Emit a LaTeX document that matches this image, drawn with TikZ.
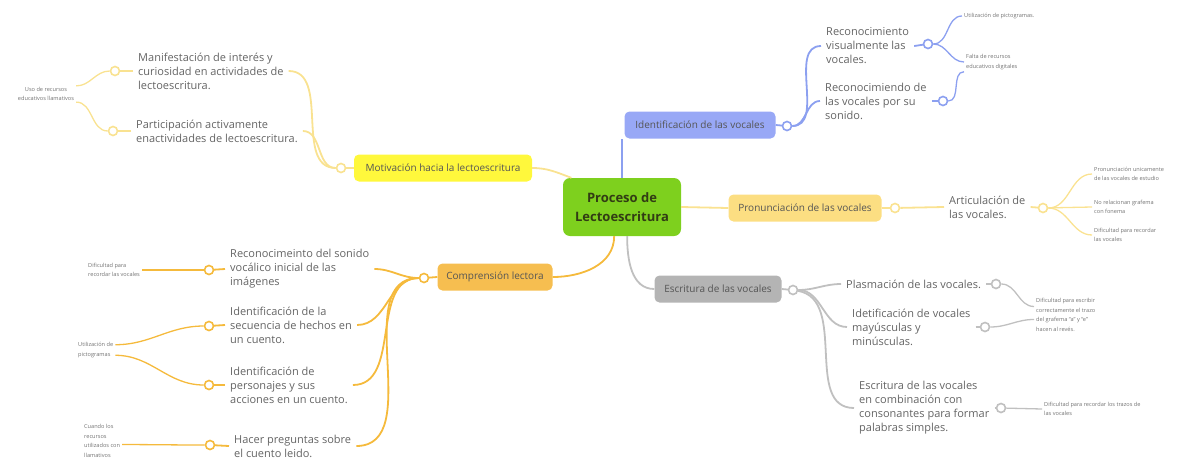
\documentclass[tikz,border=0pt]{standalone}
\usepackage{xcolor}
\usepackage{fontspec}
\setmainfont{Open Sans}
\usepackage{tikz}
\usetikzlibrary{arrows,shapes,positioning}

\definecolor{rootgreen}{RGB}{126,208,30}
\definecolor{identfill}{RGB}{152,168,246}
\definecolor{identline}{RGB}{140,160,240}
\definecolor{pronfill}{RGB}{252,222,130}
\definecolor{pronline}{RGB}{250,226,145}
\definecolor{motfill}{RGB}{255,248,60}
\definecolor{motline}{RGB}{249,226,145}
\definecolor{compfill}{RGB}{246,190,80}
\definecolor{compline}{RGB}{245,186,60}
\definecolor{escrfill}{RGB}{180,180,180}
\definecolor{escrline}{RGB}{192,192,192}
\definecolor{boxtext}{RGB}{85,85,85}
\definecolor{ideatext}{RGB}{100,100,100}
\definecolor{notetext}{RGB}{115,115,115}

\tikzset{
  topic/.style={rectangle, rounded corners=5pt, inner xsep=7pt, minimum height=27pt, font=\fontsize{10}{12}\selectfont, text=boxtext},
  idea/.style={align=left, inner xsep=5pt, inner ysep=2pt, font=\fontsize{11}{14}\selectfont, text=ideatext},
  note/.style={align=left, inner sep=2pt, font=\fontsize{5.6}{9.5}\selectfont, text=notetext},
  knob/.style={circle, draw=#1, fill=white, line width=1.6pt, minimum size=9pt, inner sep=0pt},
  link/.style={draw=#1, line width=1.8pt},
  twig/.style={draw=#1, line width=1.3pt}
}

\begin{document}
\begin{tikzpicture}[x=1pt, y=-1pt]
\useasboundingbox (0,0) rectangle (1191,472);

\node[rectangle, rounded corners=7pt, fill=rootgreen, minimum width=118pt, minimum height=58pt, align=center, text={rgb,255:red,50;green,60;blue,20}, font=\bfseries\fontsize{13}{19}\selectfont] (proc) at (622,207) {Proceso de\\Lectoescritura};

\node[topic, fill=identfill, minimum width=151pt] (ident) at (700,125) {Identificación de las vocales};
\node[topic, fill=pronfill, minimum width=153pt] (pron) at (805,208) {Pronunciación de las vocales};
\node[topic, fill=escrfill, minimum width=127pt] (escr) at (718,289) {Escritura de las vocales};
\node[topic, fill=motfill, minimum width=178pt] (motiv) at (443,168) {Motivación hacia la lectoescritura};
\node[topic, fill=compfill, minimum width=115pt] (comp) at (495,277) {Comprensión lectora};

\node[idea, anchor=west] (recvis) at (821,46) {Reconocimiento\\visualmente las\\vocales.};
\node[idea, anchor=west] (recson) at (820,101) {Reconocimiendo de\\las vocales por su\\sonido.};
\node[note, anchor=west] (util) at (962,16) {Utilización de pictogramas.};
\node[note, anchor=west] (falta) at (964,62) {Falta de recursos\\educativos digitales};

\node[idea, anchor=west] (artic) at (944,207) {Articulación de\\las vocales.};
\node[note, anchor=west] (pronun) at (1092,174) {Pronunciación unicamente\\de las vocales de estudio};
\node[note, anchor=west] (norel) at (1092,207) {No relacionan grafema\\con fonema};
\node[note, anchor=west] (difvoc) at (1092,235) {Dificultad para recordar\\las vocales};

\node[idea, anchor=west] (plasm) at (841,284) {Plasmación de las vocales.};
\node[idea, anchor=west] (idet) at (847,327) {Idetificación de vocales\\mayúsculas y\\minúsculas.};
\node[idea, anchor=west] (escomb) at (854,408) {Escritura de las vocales\\en combinación con\\consonantes para formar\\palabras simples.};
\node[note, anchor=west] (difesc) at (1034,315) {Dificultad para escribir\\correctamente el trazo\\del grafema “a” y “e”\\hacen al revés.};
\node[note, anchor=west] (diftraz) at (1042,409) {Dificultad para recordar los trazos de\\las vocales};

\node[idea, anchor=west] (manif) at (133,71) {Manifestación de interés y\\curiosidad en actividades de\\lectoescritura.};
\node[idea, anchor=west] (partic) at (131,131) {Participación activamente\\enactividades de lectoescritura.};
\node[note, align=center] (uso) at (46,94) {Uso de recursos\\educativos llamativos};

\node[idea, anchor=west] (recsnd) at (225,269) {Reconocimeinto del sonido\\vocálico inicial de las\\imágenes};
\node[idea, anchor=west] (secu) at (225,325) {Identificación de la\\secuencia de hechos en\\un cuento.};
\node[idea, anchor=west] (perso) at (225,385) {Identificación de\\personajes y sus\\acciones en un cuento.};
\node[idea, anchor=west] (hacer) at (229,446) {Hacer preguntas sobre\\el cuento leido.};
\node[note, anchor=west] (difrec) at (86,270) {Dificultad para\\recordar las vocales};
\node[note, anchor=west] (utilp) at (76,350) {Utilización de\\pictogramas};
\node[note, anchor=west] (cuando) at (82,441) {Cuando los\\recursos\\utilizados con\\llamativos};

\draw[link=identline] (proc.north) -- (proc.north |- ident.south);
\draw[link=pronline] (proc.east) -- (pron.west);
\draw[link=escrline] (proc.-80) to[out=-90, in=180] (escr.west);
\draw[link=motline] (motiv.east) to[out=0, in=160] (proc.150);
\draw[link=compline] (proc.-105) to[out=-90, in=0] (comp.east);

\draw[link=identline] (ident.east) -- (787,126) node[knob=identline] (identc) {};
\draw[link=identline] (identc) to[out=0, in=180] (recvis.west);
\draw[link=identline] (identc) to[out=0, in=180] (recson.west);
\draw[link=identline] (recvis.east) -- (928,44) node[knob=identline] (recvisc) {};
\draw[link=identline] (recson.east) -- (943,101) node[knob=identline] (recsonc) {};
\draw[twig=identline] (recvisc) to[out=0, in=180] (util.west);
\draw[twig=identline] (recvisc) to[out=0, in=180] (falta.west);
\draw[twig=identline] (recsonc) to[out=0, in=180] (falta.south west);

\draw[link=pronline] (pron.east) -- (895,208) node[knob=pronline] (pronc) {};
\draw[link=pronline] (pronc) -- (artic.west);
\draw[link=pronline] (artic.east) -- (1043,208) node[knob=pronline] (articc) {};
\draw[twig=pronline] (articc) to[out=0, in=180] (pronun.west);
\draw[twig=pronline] (articc) -- (norel.west);
\draw[twig=pronline] (articc) to[out=0, in=180] (difvoc.west);

\draw[link=escrline] (escr.east) -- (793,290) node[knob=escrline] (escrc) {};
\draw[link=escrline] (escrc) to[out=0, in=180] (plasm.west);
\draw[link=escrline] (escrc) to[out=0, in=180] (idet.west);
\draw[link=escrline] (escrc) to[out=-10, in=180] (escomb.west);
\draw[link=escrline] (plasm.east) -- (996,284) node[knob=escrline] (plasmc) {};
\draw[link=escrline] (idet.east) -- (985,327) node[knob=escrline] (idetc) {};
\draw[link=escrline] (escomb.east) -- (1001,408) node[knob=escrline] (escombc) {};
\draw[twig=escrline] (plasmc) to[out=0, in=180] (difesc.165);
\draw[twig=escrline] (idetc) to[out=0, in=180] (difesc.188);
\draw[twig=escrline] (escombc) -- (diftraz.west);

\draw[link=motline] (motiv.west) -- (341,168) node[knob=motline] (motc) {};
\draw[link=motline] (manif.east) to[out=0, in=180] (motc);
\draw[link=motline] (partic.east) to[out=0, in=180] (motc);
\draw[link=motline] (manif.west) -- (115,71) node[knob=motline] (manifc) {};
\draw[link=motline] (partic.west) -- (113,131) node[knob=motline] (particc) {};
\draw[twig=motline] (uso.15) to[out=0, in=180] (manifc);
\draw[twig=motline] (uso.-15) to[out=0, in=180] (particc);

\draw[link=compline] (comp.west) -- (424,278) node[knob=compline] (compc) {};
\draw[link=compline] (recsnd.east) to[out=0, in=180] (compc);
\draw[link=compline] (secu.east) to[out=0, in=180] (compc);
\draw[link=compline] (perso.east) to[out=0, in=180] (compc);
\draw[link=compline] (hacer.east) to[out=0, in=180] (compc);
\draw[link=compline] (recsnd.west) -- (209,270) node[knob=compline] (recsndc) {};
\draw[link=compline] (secu.west) -- (209,326) node[knob=compline] (secuc) {};
\draw[link=compline] (perso.west) -- (209,385) node[knob=compline] (persoc) {};
\draw[link=compline] (hacer.west) -- (210,445) node[knob=compline] (hacerc) {};
\draw[twig=compline] (difrec.east) -- (recsndc);
\draw[twig=compline] (utilp.15) to[out=0, in=180] (secuc);
\draw[twig=compline] (utilp.-15) to[out=0, in=180] (persoc);
\draw[twig=compline] (cuando.-10) to[out=0, in=180] (hacerc);
\end{tikzpicture}
\end{document}
